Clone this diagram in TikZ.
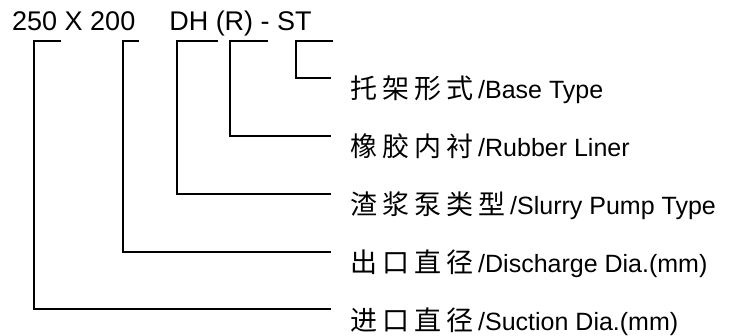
\documentclass[tikz,border=0pt]{standalone}
\usepackage{fontspec}
\setmainfont{Liberation Sans}
\newfontfamily\cjk{Noto Sans CJK SC}
\newcommand\zh[1]{\makebox[32pt][l]{\fontsize{27}{30}\cjk #1}}
\tikzset{
  lbl/.style={anchor=base west, inner sep=0pt, font=\fontsize{25}{28}\selectfont},
  codetext/.style={anchor=base west, inner sep=0pt, font=\fontsize{27}{30}\selectfont},
  bracket/.style={draw=black, line width=1.3pt, line join=miter}
}
\begin{document}
\begin{tikzpicture}[x=1pt,y=-1pt]
\useasboundingbox (0,0) rectangle (737,336);
\node[codetext] (code) at (12,31) {250 X 200\hspace{34pt}DH (R) - ST};

\node[lbl] (base) at (350,99) {\zh{托}\zh{架}\zh{形}\zh{式}/Base Type};
\node[lbl] (rubber) at (350,157) {\zh{橡}\zh{胶}\zh{内}\zh{衬}/Rubber Liner};
\node[lbl] (slurry) at (350,215) {\zh{渣}\zh{浆}\zh{泵}\zh{类}\zh{型}/Slurry Pump Type};
\node[lbl] (disch) at (350,273) {\zh{出}\zh{口}\zh{直}\zh{径}/Discharge Dia.(mm)};
\node[lbl] (suct) at (350,331) {\zh{进}\zh{口}\zh{直}\zh{径}/Suction Dia.(mm)};

\coordinate (s1) at (34,41);  \coordinate (s2) at (61,41);  \coordinate (s3) at (331,309);
\coordinate (d1) at (123,41); \coordinate (d2) at (139,41); \coordinate (d3) at (331,252);
\coordinate (p1) at (177,41); \coordinate (p2) at (218,41); \coordinate (p3) at (331,194);
\coordinate (r1) at (230,41); \coordinate (r2) at (268,41); \coordinate (r3) at (331,136);
\coordinate (b1) at (296,41); \coordinate (b2) at (333,41); \coordinate (b3) at (331,78);

\draw[bracket] (s2) -- (s1) |- (s3);
\draw[bracket] (d2) -- (d1) |- (d3);
\draw[bracket] (p2) -- (p1) |- (p3);
\draw[bracket] (r2) -- (r1) |- (r3);
\draw[bracket] (b2) -- (b1) |- (b3);
\end{tikzpicture}
\end{document}
